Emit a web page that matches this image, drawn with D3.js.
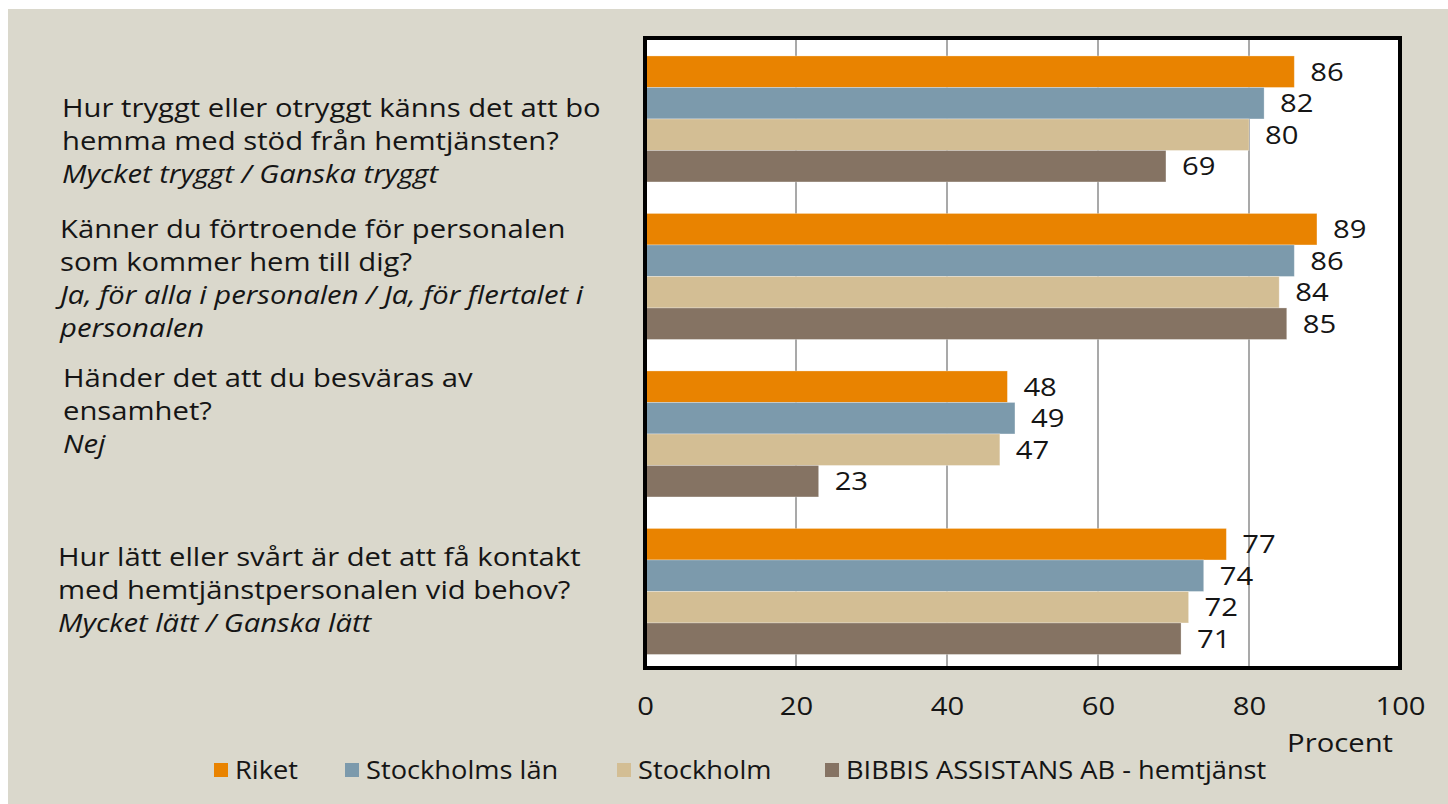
<!DOCTYPE html>
<html>
<head>
<meta charset="utf-8">
<script src="https://cdn.jsdelivr.net/npm/d3@7"></script>
<style>
  html, body { margin: 0; padding: 0; background: #fff; }
  svg { display: block; }
  text { font-family: "Open Sans", "Lato", sans-serif; fill: #151515; }
</style>
</head>
<body>
<script>
// categories (questions), each as lines of text; italic = answer option line
const questions = ["q1", "q2", "q3", "q4"];
const questionLines = [
  [["Hur tryggt eller otryggt känns det att bo", false], ["hemma med stöd från hemtjänsten?", false], ["Mycket tryggt / Ganska tryggt", true]],
  [["Känner du förtroende för personalen", false], ["som kommer hem till dig?", false], ["Ja, för alla i personalen / Ja, för flertalet i", true], ["personalen", true]],
  [["Händer det att du besväras av", false], ["ensamhet?", false], ["Nej", true]],
  [["Hur lätt eller svårt är det att få kontakt", false], ["med hemtjänstpersonalen vid behov?", false], ["Mycket lätt / Ganska lätt", true]]
];

// series
const seriesNames = ["Riket", "Stockholms län", "Stockholm", "BIBBIS ASSISTANS AB - hemtjänst"];
const riket = [86, 89, 48, 77];
const stockholmsLan = [82, 86, 49, 74];
const stockholm = [80, 84, 47, 72];
const bibbis = [69, 85, 23, 71];

const xTicks = [0, 20, 40, 60, 80, 100];
const colors = ["#e98300", "#7c9aac", "#d3be94", "#857363"];

const W = 1448, H = 804;
const plot = {left: 645, right: 1400, top: 38, bottom: 668};
const fs = 25;      // font size
const sx = 1.17;    // horizontal stretch to mimic the wide original typeface

const svg = d3.select("body").append("svg")
    .attr("width", W)
    .attr("height", H);

// background panel
svg.append("rect")
    .attr("x", 8).attr("y", 9)
    .attr("width", W - 8).attr("height", H - 9)
    .attr("fill", "#dad8cc");

const x = d3.scaleLinear().domain([0, 100]).range([plot.left, plot.right]);
const y = d3.scaleBand().domain(questions).range([plot.top, plot.bottom])
    .paddingInner(0.2).paddingOuter(0.1).align(0.57);
const ySub = d3.scaleBand().domain(seriesNames).range([0, y.bandwidth()]);
const color = d3.scaleOrdinal().domain(seriesNames).range(colors);

// plot area
svg.append("rect")
    .attr("x", plot.left).attr("y", plot.top)
    .attr("width", plot.right - plot.left).attr("height", plot.bottom - plot.top)
    .attr("fill", "#fff");

// gridlines
svg.append("g")
    .selectAll("line")
    .data(xTicks.slice(1, -1))
    .join("line")
        .attr("x1", d => x(d)).attr("x2", d => x(d))
        .attr("y1", plot.top).attr("y2", plot.bottom)
        .attr("stroke", "#8c8c8c")
        .attr("stroke-width", 1.5);

const table = questions.map((q, i) => ({
    q,
    values: [riket[i], stockholmsLan[i], stockholm[i], bibbis[i]]
        .map((v, j) => ({name: seriesNames[j], value: v}))
}));

const groups = svg.append("g")
    .selectAll("g")
    .data(table)
    .join("g")
        .attr("transform", d => `translate(0,${y(d.q)})`);

groups.selectAll("rect")
    .data(d => d.values)
    .join("rect")
        .attr("x", x(0))
        .attr("y", d => ySub(d.name))
        .attr("width", d => x(d.value) - x(0))
        .attr("height", ySub.bandwidth())
        .attr("fill", d => color(d.name))
        .attr("stroke", "rgba(255,255,255,0.35)")
        .attr("stroke-width", 0.8);

groups.selectAll("text")
    .data(d => d.values)
    .join("text")
        .attr("transform", d => `translate(${x(d.value) + 16},${ySub(d.name) + ySub.bandwidth() / 2}) scale(${sx},1)`)
        .attr("dy", "0.36em")
        .attr("font-size", fs)
        .text(d => d.value);

// frame
svg.append("rect")
    .attr("x", plot.left).attr("y", plot.top)
    .attr("width", plot.right - plot.left).attr("height", plot.bottom - plot.top)
    .attr("fill", "none")
    .attr("stroke", "#000")
    .attr("stroke-width", 4);

// x axis labels
const xAxis = svg.append("g")
    .attr("transform", `translate(0,${plot.bottom + 38})`)
    .call(d3.axisBottom(x).tickValues(xTicks).tickSize(0).tickPadding(0));
xAxis.select(".domain").remove();
xAxis.selectAll("text")
    .attr("font-size", fs)
    .attr("font-family", "Open Sans, sans-serif")
    .attr("fill", "#151515")
    .attr("dy", "0.36em")
    .attr("transform", `scale(${sx},1)`);

svg.append("text")
    .attr("transform", `translate(1393,743) scale(${sx},1)`)
    .attr("dy", "0.36em")
    .attr("text-anchor", "end")
    .attr("font-size", fs)
    .text("Procent");

// question labels
const qPos = [{x: 62, y: 108}, {x: 60, y: 229}, {x: 63, y: 378}, {x: 58, y: 557}];
const lineH = 33;
questions.forEach((q, i) => {
    svg.append("g")
        .attr("transform", `translate(${qPos[i].x},${qPos[i].y}) scale(${sx},1)`)
        .selectAll("text")
        .data(questionLines[i])
        .join("text")
            .attr("y", (d, k) => k * lineH)
            .attr("dy", "0.36em")
            .attr("font-size", fs)
            .attr("font-style", d => d[1] ? "italic" : "normal")
            .text(d => d[0]);
});

// legend
const legendX = [214, 345, 617, 825];
const legend = svg.append("g")
    .selectAll("g")
    .data(seriesNames)
    .join("g")
        .attr("transform", (d, i) => `translate(${legendX[i]},770)`);
legend.append("rect")
    .attr("x", 0).attr("y", -7)
    .attr("width", 14).attr("height", 14)
    .attr("fill", d => color(d));
legend.append("text")
    .attr("transform", "translate(21,0) scale(1.09,1)")
    .attr("dy", "0.36em")
    .attr("font-size", fs)
    .text(d => d);
</script>
</body>
</html>
